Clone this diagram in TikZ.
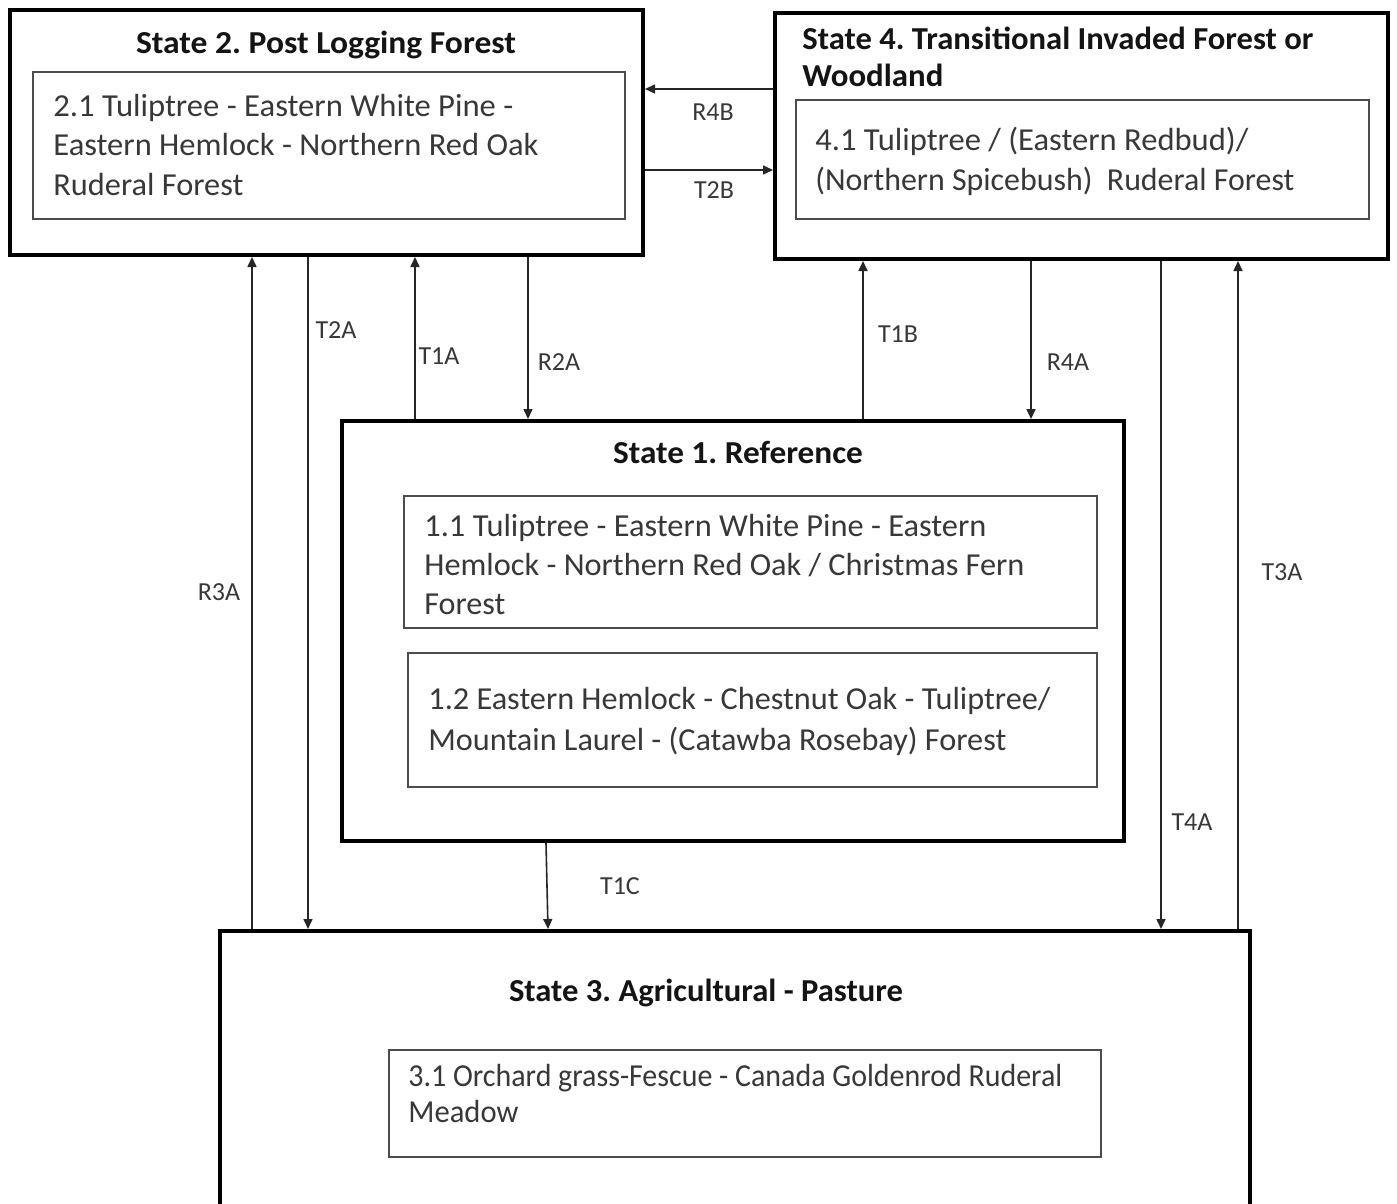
\documentclass[tikz,border=0pt]{standalone}
\usepackage{fontspec}
\setmainfont{Carlito}
\usetikzlibrary{arrows.meta,fit}
\newcommand\fitline[2]{\resizebox{#1pt}{\height}{#2}}
\frenchspacing
\begin{document}
\begin{tikzpicture}[x=0.5pt,y=-0.5pt,
  statebox/.style={draw=black, line width=2pt, inner sep=0pt, fit={#1}},
  phasebox/.style={draw=black!70, line width=1.1pt, inner sep=0pt, fit={#1}},
  titletext/.style={font=\fontsize{16}{19.75}\selectfont\bfseries, text=black!92, inner sep=0pt, anchor=base, align=center},
  bodytext/.style={font=\fontsize{16}{#1}\selectfont, text=black!78, inner sep=0pt, anchor=base west, align=left},
  lbl/.style={font=\fontsize{13}{15}\selectfont, text=black!78, inner sep=0pt},
  arr/.style={draw=black!85, line width=0.8pt, -{Triangle[length=5pt,width=4.5pt]}}
]
\useasboundingbox (0,0) rectangle (1397,1204);
\fill[white] (0,0) rectangle (1397,1204);
\clip (0,0) rectangle (1397,1204);

% state boxes
\node[statebox={(10,10) (643,255)}] (s2) {};
\node[statebox={(775,13) (1388,259)}] (s4) {};
\node[statebox={(342,421) (1124,841)}] (s1) {};
\node[statebox={(220,931) (1250,1240)}] (s3) {};

% phase boxes
\node[phasebox={(33,72) (625,219)}] (p21) {};
\node[phasebox={(796,100) (1369,219)}] (p41) {};
\node[phasebox={(404,496) (1097,628)}] (p11) {};
\node[phasebox={(408,653) (1097,787)}] (p12) {};
\node[phasebox={(389,1050) (1101,1157)}] (p31) {};

% titles (anchor base = baseline of the last line)
\node[titletext] (t2) at (326,54) {\fitline{190}{State 2. Post Logging Forest}};
\node[titletext, anchor=base west, align=left, font=\fontsize{16}{18.5}\selectfont\bfseries] (t4) at (802,87)
  {\fitline{255.5}{State 4. Transitional Invaded Forest or}\\\fitline{70.5}{Woodland}};
\node[titletext] (t1) at (738,463) {\fitline{125}{State 1. Reference}};
\node[titletext] (t3) at (706,1001) {\fitline{197}{State 3. Agricultural - Pasture}};

% phase texts
\node[bodytext=19.75] (x21) at (53,195)
  {\fitline{230}{2.1 Tuliptree - Eastern White Pine -}\\
   \fitline{242.5}{Eastern Hemlock - Northern Red Oak}\\
   \fitline{95}{Ruderal Forest}};
\node[bodytext=20.5] (x41) at (815,191)
  {\fitline{216.5}{4.1 Tuliptree / (Eastern Redbud)/}\\
   \fitline{239.5}{(Northern Spicebush)\ \ Ruderal Forest}};
\node[bodytext=19.5] (x11) at (424,614)
  {\fitline{281}{1.1 Tuliptree - Eastern White Pine - Eastern}\\
   \fitline{300}{Hemlock - Northern Red Oak / Christmas Fern}\\
   \fitline{40.5}{Forest}};
\node[bodytext=20.5] (x12) at (428,750)
  {\fitline{311}{1.2 Eastern Hemlock - Chestnut Oak - Tuliptree/}\\
   \fitline{289}{Mountain Laurel - (Catawba Rosebay) Forest}};
\node[bodytext=18] (x31) at (408,1122)
  {\fitline{327}{3.1 Orchard grass-Fescue - Canada Goldenrod Ruderal}\\
   \fitline{55}{Meadow}};

% connector positions
\coordinate (xR3A) at (252,0);
\coordinate (xT2A) at (308,0);
\coordinate (xT1A) at (415,0);
\coordinate (xR2A) at (528,0);
\coordinate (xT1B) at (863,0);
\coordinate (xR4A) at (1031,0);
\coordinate (xT4A) at (1161,0);
\coordinate (xT3A) at (1238,0);
\coordinate (xT1Ca) at (546,0);
\coordinate (xT1Cb) at (548,0);
\coordinate (yR4B) at (0,89);
\coordinate (yT2B) at (0,170);

% connectors
\draw[arr] (s3.north -| xR3A) -- (s2.south -| xR3A);
\draw[arr] (s2.south -| xT2A) -- (s3.north -| xT2A);
\draw[arr] (s1.north -| xT1A) -- (s2.south -| xT1A);
\draw[arr] (s2.south -| xR2A) -- (s1.north -| xR2A);
\draw[arr] (s1.north -| xT1B) -- (s4.south -| xT1B);
\draw[arr] (s4.south -| xR4A) -- (s1.north -| xR4A);
\draw[arr] (s4.south -| xT4A) -- (s3.north -| xT4A);
\draw[arr] (s3.north -| xT3A) -- (s4.south -| xT3A);
\draw[arr] (s1.south -| xT1Ca) -- (s3.north -| xT1Cb);
\draw[arr] (s4.west |- yR4B) -- (s2.east |- yR4B);
\draw[arr] (s2.east |- yT2B) -- (s4.west |- yT2B);

% labels
\node[lbl] (lR4B) at (713,112) {R4B};
\node[lbl] (lT2B) at (714,190) {T2B};
\node[lbl] (lT2A) at (336,330) {T2A};
\node[lbl] (lT1A) at (439,356) {T1A};
\node[lbl] (lR2A) at (559,362) {R2A};
\node[lbl] (lT1B) at (898,334) {T1B};
\node[lbl] (lR4A) at (1068,362) {R4A};
\node[lbl] (lR3A) at (219,592) {R3A};
\node[lbl] (lT3A) at (1282,572) {T3A};
\node[lbl] (lT4A) at (1192,822) {T4A};
\node[lbl] (lT1C) at (620,886) {T1C};
\end{tikzpicture}
\end{document}
